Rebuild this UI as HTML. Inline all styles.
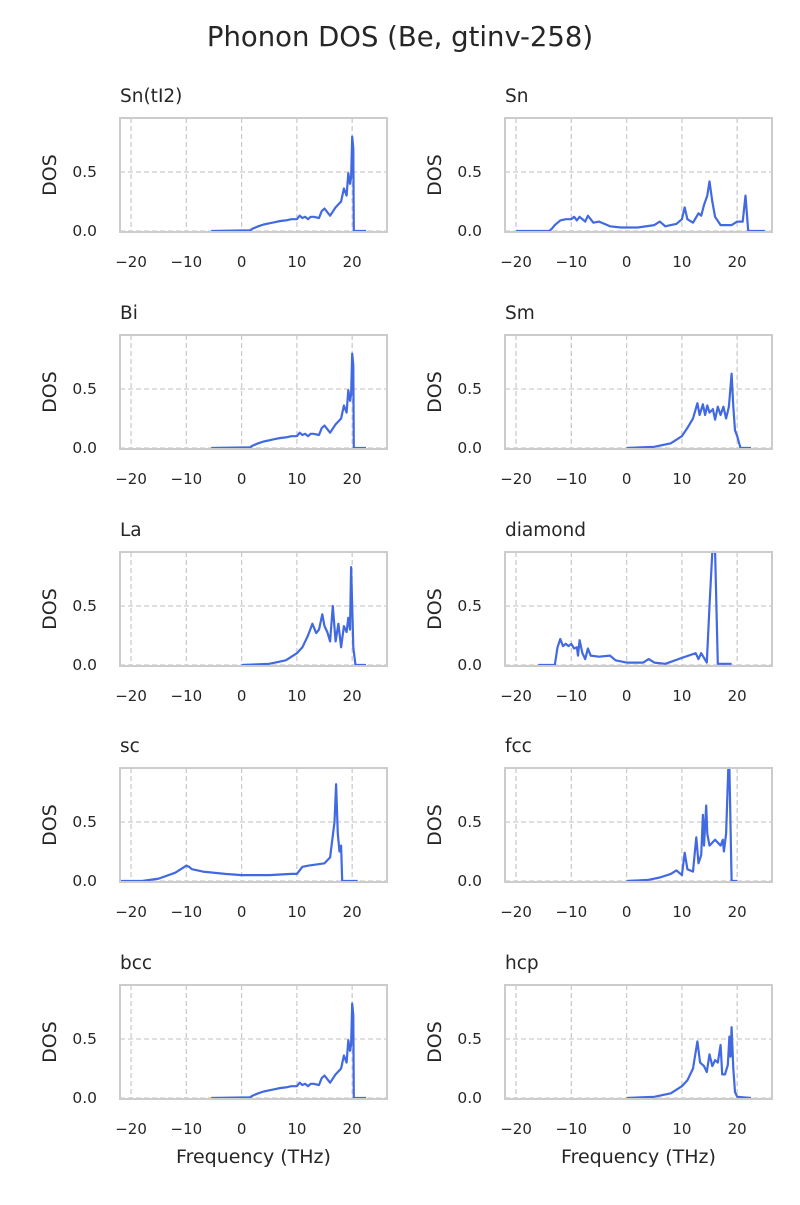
<!DOCTYPE html>
<html><head><meta charset="utf-8"><style>
body{margin:0;background:#fff;}
svg text{font-family:"DejaVu Sans","Liberation Sans",sans-serif;fill:#262626;}
</style></head><body>
<svg id="fig" width="800" height="1200" xmlns="http://www.w3.org/2000/svg">
<rect width="800" height="1200" fill="#fff"/>
<text x="400" y="46" text-anchor="middle" font-size="27.5">Phonon DOS (Be, gtinv-258)</text>
</svg>
<script>
const names = ["Sn(tI2)","Sn","Bi","Sm","La","diamond","sc","fcc","bcc","hcp"];
const xTicks = [-20,-10,0,10,20];
const yTicks = [0.0,0.5];
const yTickLabels = ["0.0","0.5"];
const fSnTI2 = [-5.5,1.5,2,3,4,5,6,7,8,9,10,10.5,11,11.5,12,12.5,13,14,14.5,15,16,17,18,18.5,19,19.3,19.6,19.8,20,20.2,20.3,22.5];
const dSnTI2 = [0,0.005,0.02,0.04,0.055,0.065,0.075,0.085,0.09,0.1,0.1,0.13,0.11,0.12,0.1,0.12,0.12,0.11,0.17,0.19,0.13,0.2,0.25,0.36,0.3,0.49,0.4,0.45,0.8,0.7,0,0];
const fSn = [-20,-14,-13.5,-13,-12,-11,-10,-9.5,-9,-8.5,-7.5,-7,-6,-5,-4,-3,-1,2,5,6,7,8,9,10,10.5,11,12,13,13.5,14,14.6,15,15.5,16,17,19,20,21,21.5,22,25];
const dSn = [0,0,0.02,0.05,0.09,0.1,0.1,0.12,0.09,0.12,0.08,0.13,0.07,0.08,0.06,0.04,0.03,0.03,0.05,0.08,0.04,0.05,0.06,0.1,0.2,0.1,0.07,0.15,0.13,0.22,0.3,0.42,0.25,0.12,0.05,0.05,0.08,0.08,0.3,0,0];
const fSm = [0,5,8,10,11,12,12.8,13.2,13.8,14.2,14.6,15,15.6,16,16.5,17,17.5,18,18.5,19,19.3,19.6,20,20.6,22.5];
const dSm = [0,0.01,0.04,0.1,0.17,0.25,0.38,0.28,0.37,0.28,0.36,0.3,0.33,0.24,0.35,0.28,0.35,0.25,0.35,0.63,0.35,0.15,0.1,0,0];
const fLa = [0,5,8,10,11,12,12.8,13.5,14,14.6,15,15.5,16,16.5,17,17.5,18,18.5,19,19.3,19.6,19.8,20,20.2,20.6,22.5];
const dLa = [0,0.01,0.04,0.1,0.15,0.25,0.35,0.27,0.3,0.43,0.33,0.28,0.2,0.5,0.2,0.35,0.15,0.33,0.28,0.4,0.3,0.83,0.5,0.15,0,0];
const fDia = [-16,-13,-12.5,-12,-11.5,-11,-10.5,-10,-9.5,-9,-8.8,-8.5,-8,-7.5,-7,-6.5,-5,-3,-2,0,3,4,5,7,10,12.5,13,13.5,14.5,15,15.5,16,16.5,19];
const dDia = [0,0,0.15,0.22,0.16,0.18,0.16,0.18,0.14,0.15,0.08,0.21,0.1,0.05,0.14,0.08,0.07,0.08,0.04,0.02,0.02,0.05,0.02,0.01,0.06,0.1,0.05,0.1,0.02,0.5,0.99,0.99,0.01,0.01];
const fSc = [-22,-18,-15,-12,-11,-10,-9.5,-9,-7,-3,0,5,9,10,11,12,15,16,16.8,17.1,17.4,17.7,18,18.2,21];
const dSc = [0,0,0.02,0.07,0.1,0.13,0.12,0.1,0.08,0.06,0.05,0.05,0.06,0.06,0.12,0.13,0.15,0.2,0.5,0.82,0.4,0.25,0.3,0,0];
const fFcc = [0,4,6,8,9,9.5,10,10.5,11,12,12.2,12.6,13,13.5,13.8,14,14.4,14.6,15,16,17,17.4,17.6,18,18.4,18.6,19,20];
const dFcc = [0,0.01,0.03,0.06,0.09,0.07,0.05,0.24,0.1,0.08,0.18,0.37,0.15,0.22,0.56,0.3,0.64,0.4,0.3,0.35,0.3,0.35,0.25,0.4,0.99,0.99,0,0];
const fHcp = [0,5,8,10,11,12,12.8,13.3,14,14.5,15,15.5,16,16.5,17,17.3,17.8,18.3,18.6,18.8,19,19.3,19.6,20,22.5];
const dHcp = [0,0.01,0.04,0.1,0.15,0.25,0.48,0.3,0.27,0.22,0.37,0.27,0.32,0.3,0.45,0.2,0.2,0.28,0.52,0.35,0.6,0.25,0.05,0.01,0];
const series = [[fSnTI2,dSnTI2],[fSn,dSn],[fSnTI2,dSnTI2],[fSm,dSm],[fLa,dLa],[fDia,dDia],[fSc,dSc],[fFcc,dFcc],[fSnTI2,dSnTI2],[fHcp,dHcp]];

const NS="http://www.w3.org/2000/svg";
const svg=document.getElementById('fig');
function mk(tag,attrs,parent){const e=document.createElementNS(NS,tag);for(const k in attrs)e.setAttribute(k,attrs[k]);(parent||svg).appendChild(e);return e;}
const tops=[118,335,552,768,985];
const lefts=[120,505];
const W=267,H=114,XMIN=-22,XMAX=26.3;
for(let i=0;i<10;i++){
  const col=i%2,row=Math.floor(i/2);
  const x0=lefts[col],y0=tops[row];
  const g=mk('g',{});
  
  
  const xs=f=>x0+(f-XMIN)/(XMAX-XMIN)*W;
  const ys=v=>y0+113-v*118;
  for(const t of xTicks){
    const gl=mk('line',{x1:xs(t),x2:xs(t),y1:y0,y2:y0+H,stroke:'#cccccc','stroke-width':1.3,'stroke-dasharray':'5,3'},g);
    
    
    const tl=mk('text',{x:xs(t),y:y0+H+35,'text-anchor':'middle','font-size':15},g);
    tl.textContent=(t<0?'\u2212'+(-t):String(t));
    
    
  }
  yTicks.forEach((t,k)=>{
    const gl=mk('line',{x1:x0,x2:x0+W,y1:ys(t),y2:ys(t),stroke:'#cccccc','stroke-width':1.3,'stroke-dasharray':'5,3'},g);
    
    
    const tl=mk('text',{x:x0-23,y:ys(t)+5,'text-anchor':'end','font-size':15.5},g);
    tl.textContent=yTickLabels[k];
    
    
  });
  const [fs,ds]=series[i];
  const pts=fs.map((f,k)=>xs(f).toFixed(1)+','+Math.max(y0,ys(ds[k])).toFixed(1)).join(' ');
  const pl=mk('polyline',{points:pts,fill:'none',stroke:'#4169e1','stroke-width':2.2,'stroke-linejoin':'round'},g);
  
  
  const fr=mk('rect',{x:x0,y:y0,width:W,height:H,fill:'none',stroke:'#cccccc','stroke-width':2},g);
  
  
  const tt=mk('text',{x:x0,y:y0-16,'font-size':18.5},g);
  tt.textContent=names[i];
  
  
  const yl=mk('text',{x:0,y:0,'font-size':19,'text-anchor':'middle',transform:`translate(${x0-64},${y0+57}) rotate(-90)`},g);
  yl.textContent='DOS';
  
  
  if(row===4){
    const xl=mk('text',{x:x0+W/2,y:1163,'font-size':19,'text-anchor':'middle'},g);
    xl.textContent='Frequency (THz)';
    
    
  }
}
</script>
</body></html>
